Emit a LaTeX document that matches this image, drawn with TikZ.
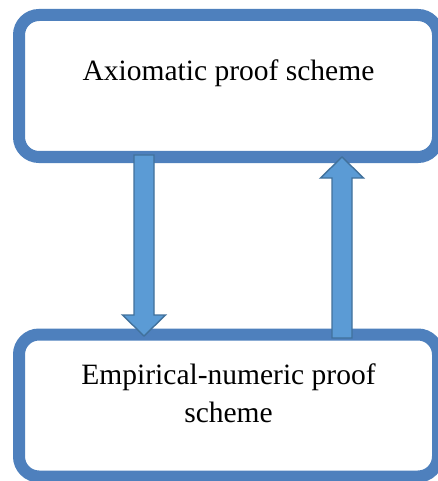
\documentclass[tikz,border=0pt]{standalone}
\usepackage{fontspec}
\setmainfont{Liberation Serif}
\usetikzlibrary{calc}
\definecolor{boxline}{HTML}{4E80BD}
\definecolor{arrowfill}{HTML}{5B9BD5}
\definecolor{arrowline}{HTML}{41719C}
\tikzset{
  schemebox/.style={draw=boxline, line width=12pt, rounded corners=20pt,
    fill=white, minimum width=419pt, minimum height=142pt, inner sep=0pt},
  schemetext/.style={anchor=base, align=center, inner sep=0pt,
    font=\fontsize{29.5}{38}\selectfont},
  blockarrow/.style={fill=arrowfill, draw=arrowline, line width=1.4pt, line join=miter}
}
\begin{document}
\begin{tikzpicture}[x=1pt, y=-1pt]
  \useasboundingbox[fill=white] (0,0) rectangle (438,481);

  % the two proof schemes
  \node[schemebox] (axi) at (228.5,86) {};
  \node[schemebox] (emp) at (228.5,405.5) {};
  \node[schemetext] (axitext) at (228.5,81) {Axiomatic proof scheme};
  \node[schemetext] (emptext) at (228.5,384) {Empirical-numeric proof};
  \node[schemetext] (emptext2) at (228.5,422) {scheme};

  % downward arrow: axiomatic -> empirical
  \coordinate (dfrom) at (144,155);
  \coordinate (dto)   at (144,336);
  \draw[blockarrow] ($(dfrom)+(-10,0)$) -- ($(dfrom)+(10,0)$)
    -- ($(dto)+(10,-21)$) -- ($(dto)+(21.5,-21)$) -- (dto)
    -- ($(dto)+(-21.5,-21)$) -- ($(dto)+(-10,-21)$) -- cycle;

  % upward arrow: empirical -> axiomatic
  \coordinate (ufrom) at (342,338);
  \coordinate (uto)   at (342,157);
  \draw[blockarrow] ($(ufrom)+(-10,0)$) -- ($(ufrom)+(10,0)$)
    -- ($(uto)+(10,21)$) -- ($(uto)+(21.5,21)$) -- (uto)
    -- ($(uto)+(-21.5,21)$) -- ($(uto)+(-10,21)$) -- cycle;
\end{tikzpicture}
\end{document}
